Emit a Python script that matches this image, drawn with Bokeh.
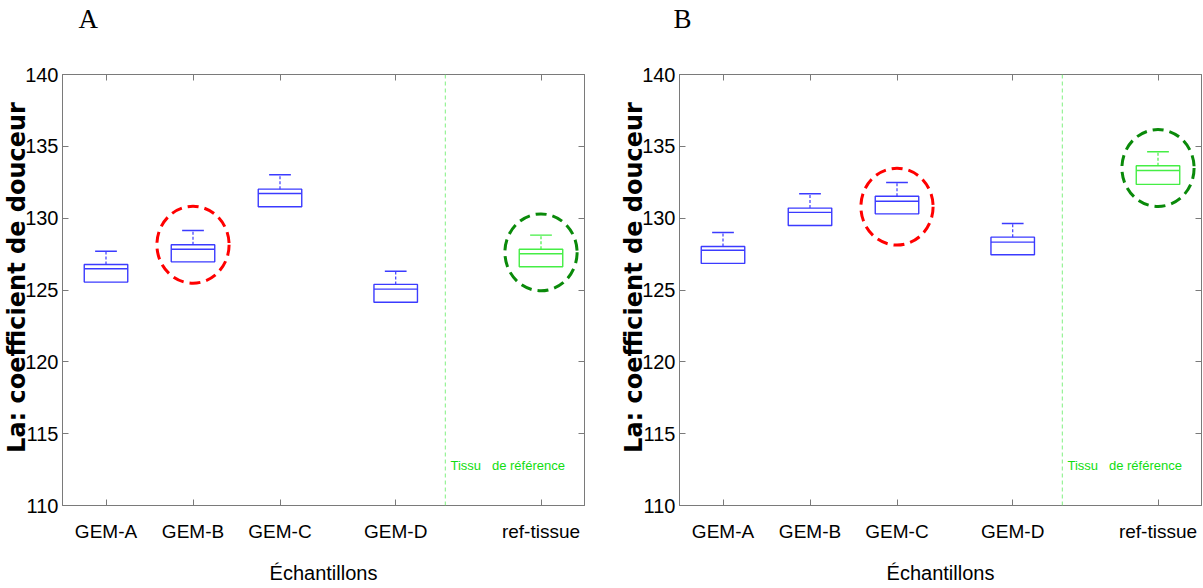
from bokeh.plotting import figure
from bokeh.models import FixedTicker, LinearAxis, Range1d, Span, Label, Title, CustomJSTickFormatter
from bokeh.layouts import row
from bokeh.embed import file_html
from bokeh.resources import INLINE

# ---------------- data ----------------
categories = ["GEM-A", "GEM-B", "GEM-C", "GEM-D", "ref-tissue"]
positions = [1, 2, 3, 4.33, 6]
y_ticks = [110, 115, 120, 125, 130, 135, 140]
separator_x = 4.9

# Panel A (box: q1, median, q3, upper whisker)
a_q1 = [125.55, 126.96, 130.79, 124.15, 126.62]
a_med = [126.48, 127.84, 131.72, 125.06, 127.52]
a_q3 = [126.78, 128.15, 132.02, 125.39, 127.84]
a_hi = [127.70, 129.14, 133.02, 126.31, 128.82]

# Panel B
b_q1 = [126.85, 129.49, 130.30, 127.45, 132.35]
b_med = [127.77, 130.40, 131.18, 128.33, 133.32]
b_q3 = [128.03, 130.70, 131.53, 128.68, 133.65]
b_hi = [129.00, 131.70, 132.48, 129.63, 134.62]

# highlighted boxes: (category index, centre value)
a_highlight_idx = [1, 4]
a_highlight_y = [128.15, 127.62]
b_highlight_idx = [2, 4]
b_highlight_y = [130.80, 133.49]
highlight_colors = ["#ff0000", "#0a8a0a"]

box_colors = ["#3b3bff", "#3b3bff", "#3b3bff", "#3b3bff", "#45ee45"]

SANS = "Liberation Sans"
GRAY = "#7a7a7a"
NBSP = "\u00a0"


def make_panel(letter, title_offset, q1, med, q3, hi, hl_idx, hl_y, left_border, right_border):
    p = figure(frame_width=522, frame_height=431,
               x_range=Range1d(0.5, 6.5), y_range=Range1d(110, 140),
               output_backend="svg", toolbar_location=None,
               min_border_left=left_border, min_border_right=right_border,
               min_border_top=74, min_border_bottom=81,
               background_fill_color="white", border_fill_color="white",
               outline_line_color=GRAY)
    p.xgrid.visible = False
    p.ygrid.visible = False
    p.title.text = ""

    p.xaxis.ticker = FixedTicker(ticks=positions)
    p.xaxis.major_label_overrides = {pos: name for pos, name in zip(positions, categories)}
    p.yaxis.ticker = FixedTicker(ticks=y_ticks)
    for ax in (p.xaxis[0], p.yaxis[0]):
        ax.axis_line_color = GRAY
        ax.major_tick_line_color = GRAY
        ax.minor_tick_line_color = None
        ax.major_tick_in = 6
        ax.major_tick_out = 0
        ax.major_label_text_font = SANS
        ax.major_label_text_color = "black"
        ax.axis_label_text_color = "black"
    p.xaxis.major_label_text_font_size = "19px"
    p.xaxis.major_label_standoff = 15
    p.xaxis.axis_label = "Échantillons"
    p.xaxis.axis_label_text_font = SANS
    p.xaxis.axis_label_text_font_size = "20px"
    p.xaxis.axis_label_text_font_style = "normal"
    p.xaxis.axis_label_standoff = 17

    p.yaxis.major_label_text_font_size = "20px"
    p.yaxis.major_label_standoff = 4
    p.yaxis.axis_label = NBSP * 3 + "La: coefficient de douceur"
    p.yaxis.axis_label_text_font = "DejaVu Sans"
    p.yaxis.axis_label_text_font_style = "bold"
    p.yaxis.axis_label_text_font_size = "24px"
    p.yaxis.axis_label_standoff = -9

    blank = CustomJSTickFormatter(code="return ''")
    top = LinearAxis(ticker=FixedTicker(ticks=positions), formatter=blank)
    right = LinearAxis(ticker=FixedTicker(ticks=y_ticks), formatter=blank)
    for ax in (top, right):
        ax.axis_line_color = GRAY
        ax.major_tick_line_color = GRAY
        ax.minor_tick_line_color = None
        ax.major_tick_in = 6
        ax.major_tick_out = 0
        ax.major_label_standoff = 0
    p.add_layout(top, "above")
    p.add_layout(right, "right")

    # spacer title (closest to the frame), then the panel letter above it
    p.add_layout(Title(text=NBSP, text_font=SANS, text_font_size="35px",
                       standoff=0), "above")
    p.add_layout(Title(text=letter, text_font="Liberation Serif",
                       text_font_size="27px", text_font_style="normal",
                       align="left", offset=title_offset, standoff=0,
                       text_color="black"), "above")

    # separator
    p.add_layout(Span(location=separator_x, dimension="height",
                      line_color="#80f080", line_dash="4 3", line_width=1))

    # boxes
    hw = 0.25
    cw = 0.125
    p.quad(left=[x - hw for x in positions], right=[x + hw for x in positions],
           bottom=q1, top=q3, fill_color=None, line_color=box_colors, line_width=1.4)
    p.segment(x0=[x - hw for x in positions], x1=[x + hw for x in positions],
              y0=med, y1=med, line_color=box_colors, line_width=1.4)
    p.segment(x0=positions, x1=positions, y0=q3, y1=hi,
              line_color=box_colors, line_width=1.2, line_dash="3 2")
    p.segment(x0=[x - cw for x in positions], x1=[x + cw for x in positions],
              y0=hi, y1=hi, line_color=box_colors, line_width=1.4)

    # highlight circles
    p.ellipse(x=[positions[i] for i in hl_idx], y=hl_y, width=0.83, height=5.35,
              fill_color=None, line_color=highlight_colors, line_width=3,
              line_dash="11 6")

    # reference-zone text
    p.add_layout(Label(x=4.96, y=112.8, text="Tissu" + NBSP * 3 + "de référence",
                       text_font=SANS, text_font_size="13px",
                       text_color="#11dd11", text_align="left",
                       text_baseline="middle"))
    return p


pa = make_panel("A", 16, a_q1, a_med, a_q3, a_hi, a_highlight_idx, a_highlight_y, 61, 33)
pb = make_panel("B", -6, b_q1, b_med, b_q3, b_hi, b_highlight_idx, b_highlight_y, 60, 4)

layout = row(pa, pb, spacing=0)
open("out.html", "w").write(file_html(layout, INLINE))
